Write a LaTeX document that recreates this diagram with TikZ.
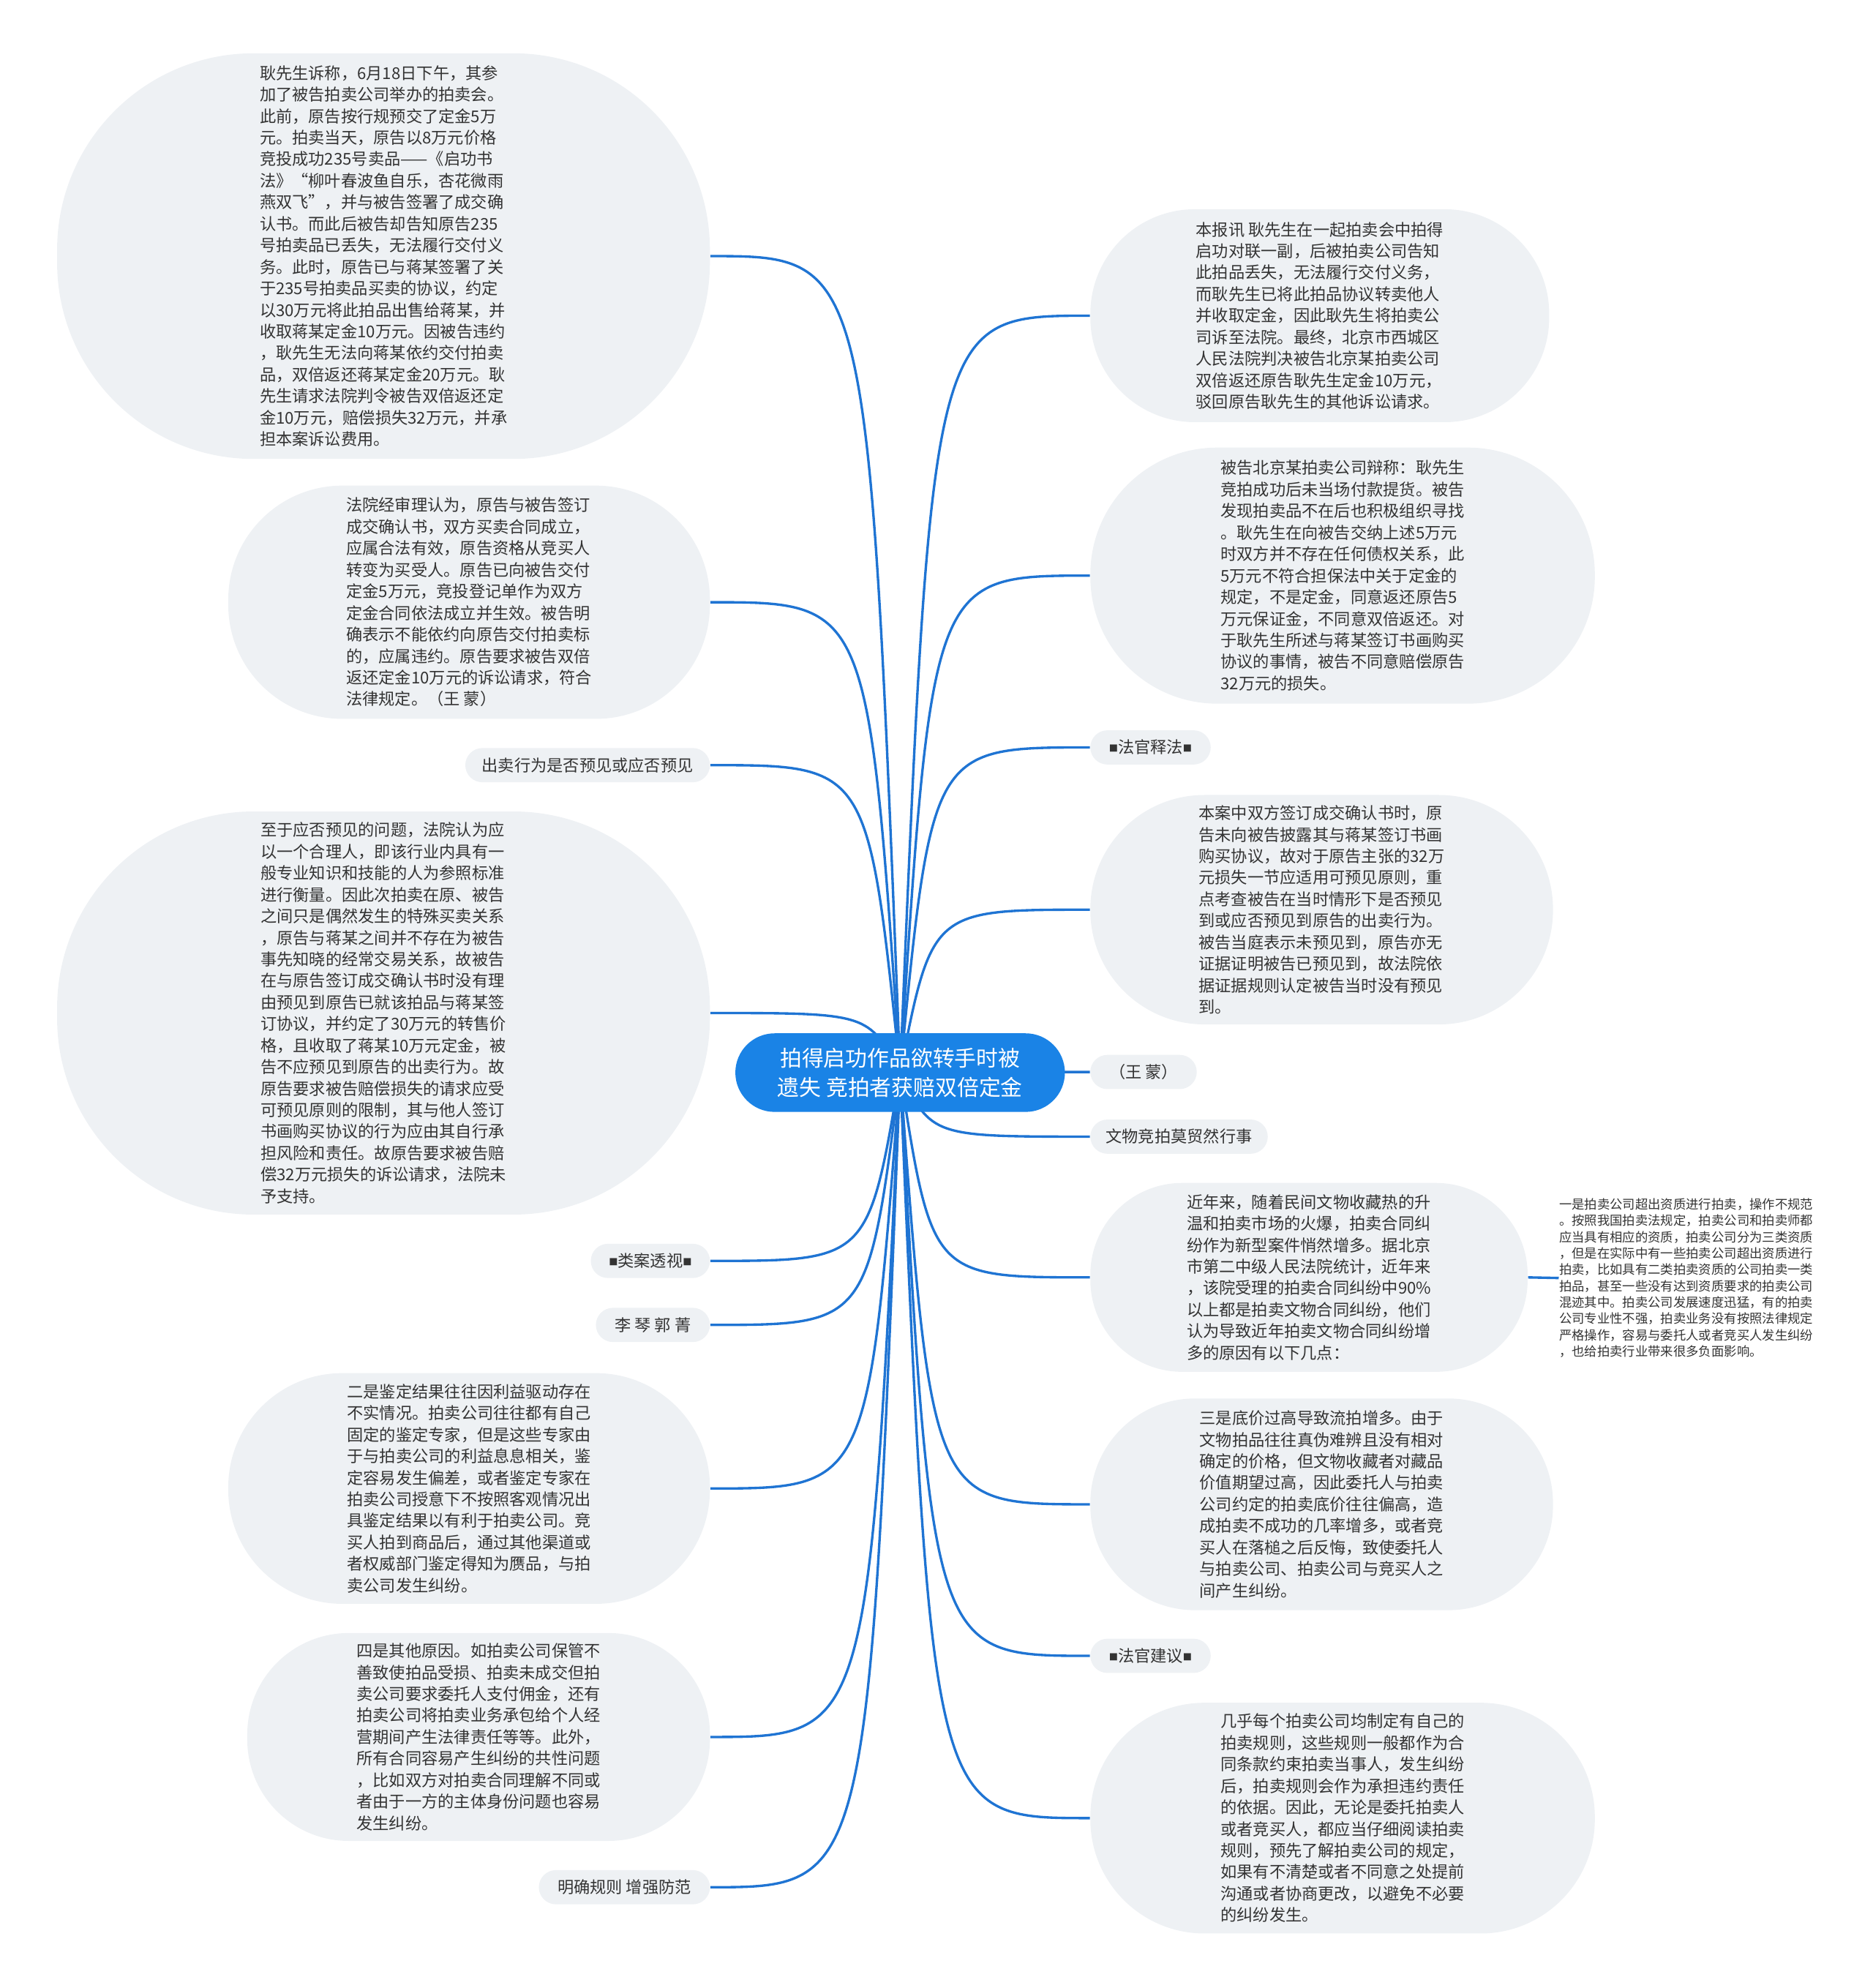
\documentclass[tikz,border=0pt]{standalone}
\usepackage{fontspec}
\setmainfont{Noto Sans CJK SC}
\usepackage{xcolor}
\usetikzlibrary{backgrounds}

\definecolor{mapblue}{HTML}{1A83E6}
\definecolor{linkblue}{HTML}{1F74D3}
\definecolor{blobgray}{HTML}{EEF1F4}
\definecolor{inkgray}{HTML}{333333}

\newcommand{\blk}{\raisebox{0.1em}{\scalebox{0.55}{■}}}

\tikzset{
  blob/.style={fill=blobgray, text=inkgray, align=left, inner sep=0pt,
    font=\fontsize{7.3pt}{9.67pt}\selectfont},
  tag/.style={blob, minimum height=0.54cm, rounded corners=0.27cm},
  link/.style={draw=linkblue, line width=1.1pt},
}

\begin{document}
\begin{tikzpicture}[x=0.02cm, y=-0.02cm]
  \useasboundingbox (0,0) rectangle (1477,1568);

  \node[fill=mapblue, text=white, align=center, minimum width=5.2cm, minimum height=1.24cm,
    rounded corners=0.62cm, font=\fontsize{9.8pt}{13pt}\selectfont] (title) at (710,846)
    {拍得启功作品欲转手时被\\遗失 竞拍者获赔双倍定金};

  % left side
  \node[blob, minimum width=10.3cm, minimum height=6.4cm, rounded corners=3.1cm] (claim) at (302.5,202) {
    耿先生诉称，6月18日下午，其参\\加了被告拍卖公司举办的拍卖会。\\此前，原告按行规预交了定金5万\\元。拍卖当天，原告以8万元价格\\竞投成功235号卖品——《启功书\\法》“柳叶春波鱼自乐，杏花微雨\\燕双飞”，并与被告签署了成交确\\认书。而此后被告却告知原告235\\号拍卖品已丢失，无法履行交付义\\务。此时，原告已与蒋某签署了关\\于235号拍卖品买卖的协议，约定\\以30万元将此拍品出售给蒋某，并\\收取蒋某定金10万元。因被告违约\\，耿先生无法向蒋某依约交付拍卖\\品，双倍返还蒋某定金20万元。耿\\先生请求法院判令被告双倍返还定\\金10万元，赔偿损失32万元，并承\\担本案诉讼费用。};
  \node[blob, minimum width=7.6cm, minimum height=3.68cm, rounded corners=1.8cm] (court) at (370,475) {
    法院经审理认为，原告与被告签订\\成交确认书，双方买卖合同成立，\\应属合法有效，原告资格从竞买人\\转变为买受人。原告已向被告交付\\定金5万元，竞投登记单作为双方\\定金合同依法成立并生效。被告明\\确表示不能依约向原告交付拍卖标\\的，应属违约。原告要求被告双倍\\返还定金10万元的诉讼请求，符合\\法律规定。（王 蒙）};
  \node[tag, minimum width=3.86cm] (foresee) at (463.5,603.5) {出卖行为是否预见或应否预见};
  \node[blob, minimum width=10.3cm, minimum height=6.36cm, rounded corners=3.1cm] (reason) at (302.5,799) {
    至于应否预见的问题，法院认为应\\以一个合理人，即该行业内具有一\\般专业知识和技能的人为参照标准\\进行衡量。因此次拍卖在原、被告\\之间只是偶然发生的特殊买卖关系\\，原告与蒋某之间并不存在为被告\\事先知晓的经常交易关系，故被告\\在与原告签订成交确认书时没有理\\由预见到原告已就该拍品与蒋某签\\订协议，并约定了30万元的转售价\\格，且收取了蒋某10万元定金，被\\告不应预见到原告的出卖行为。故\\原告要求被告赔偿损失的请求应受\\可预见原则的限制，其与他人签订\\书画购买协议的行为应由其自行承\\担风险和责任。故原告要求被告赔\\偿32万元损失的诉讼请求，法院未\\予支持。};
  \node[tag, minimum width=1.88cm] (leicase) at (513,994.5) {\blk 类案透视\blk};
  \node[tag, minimum width=1.8cm] (authors) at (515,1045) {李 琴 郭 菁};
  \node[blob, minimum width=7.6cm, minimum height=3.64cm, rounded corners=1.8cm] (second) at (370,1174) {
    二是鉴定结果往往因利益驱动存在\\不实情况。拍卖公司往往都有自己\\固定的鉴定专家，但是这些专家由\\于与拍卖公司的利益息息相关，鉴\\定容易发生偏差，或者鉴定专家在\\拍卖公司授意下不按照客观情况出\\具鉴定结果以有利于拍卖公司。竞\\买人拍到商品后，通过其他渠道或\\者权威部门鉴定得知为赝品，与拍\\卖公司发生纠纷。};
  \node[blob, minimum width=7.3cm, minimum height=3.28cm, rounded corners=1.6cm] (fourth) at (377.5,1370) {
    四是其他原因。如拍卖公司保管不\\善致使拍品受损、拍卖未成交但拍\\卖公司要求委托人支付佣金，还有\\拍卖公司将拍卖业务承包给个人经\\营期间产生法律责任等等。此外，\\所有合同容易产生纠纷的共性问题\\，比如双方对拍卖合同理解不同或\\者由于一方的主体身份问题也容易\\发生纠纷。};
  \node[tag, minimum width=2.7cm] (rules) at (492.5,1488.5) {明确规则 增强防范};

  % right side
  \node[blob, minimum width=7.24cm, minimum height=3.36cm, rounded corners=1.65cm] (report) at (1041,249) {
    本报讯 耿先生在一起拍卖会中拍得\\启功对联一副，后被拍卖公司告知\\此拍品丢失，无法履行交付义务，\\而耿先生已将此拍品协议转卖他人\\并收取定金，因此耿先生将拍卖公\\司诉至法院。最终，北京市西城区\\人民法院判决被告北京某拍卖公司\\双倍返还原告耿先生定金10万元，\\驳回原告耿先生的其他诉讼请求。};
  \node[blob, minimum width=7.96cm, minimum height=4.04cm, rounded corners=2cm] (defence) at (1059,454) {
    被告北京某拍卖公司辩称：耿先生\\竞拍成功后未当场付款提货。被告\\发现拍卖品不在后也积极组织寻找\\。耿先生在向被告交纳上述5万元\\时双方并不存在任何债权关系，此\\5万元不符合担保法中关于定金的\\规定，不是定金，同意返还原告5\\万元保证金，不同意双倍返还。对\\于耿先生所述与蒋某签订书画购买\\协议的事情，被告不同意赔偿原告\\32万元的损失。};
  \node[tag, minimum width=1.9cm] (judgehead) at (907.5,589.5) {\blk 法官释法\blk};
  \node[blob, minimum width=7.3cm, minimum height=3.62cm, rounded corners=1.8cm] (analysis) at (1042.5,717.5) {
    本案中双方签订成交确认书时，原\\告未向被告披露其与蒋某签订书画\\购买协议，故对于原告主张的32万\\元损失一节应适用可预见原则，重\\点考查被告在当时情形下是否预见\\到或应否预见到原告的出卖行为。\\被告当庭表示未预见到，原告亦无\\证据证明被告已预见到，故法院依\\据证据规则认定被告当时没有预见\\到。};
  \node[tag, minimum width=1.68cm] (wangmeng) at (902,845.5) {（王 蒙）};
  \node[tag, minimum width=2.8cm] (relics) at (930,896.5) {文物竞拍莫贸然行事};
  \node[blob, minimum width=6.9cm, minimum height=2.98cm, rounded corners=1.45cm] (recent) at (1032.5,1007.5) {
    近年来，随着民间文物收藏热的升\\温和拍卖市场的火爆，拍卖合同纠\\纷作为新型案件悄然增多。据北京\\市第二中级人民法院统计，近年来\\，该院受理的拍卖合同纠纷中90\%\\以上都是拍卖文物合同纠纷，他们\\认为导致近年拍卖文物合同纠纷增\\多的原因有以下几点：};
  \node[text=inkgray, align=left, inner sep=0pt, font=\fontsize{5.7pt}{7.33pt}\selectfont] (first) at (1330,1008) {
    一是拍卖公司超出资质进行拍卖，操作不规范\\。按照我国拍卖法规定，拍卖公司和拍卖师都\\应当具有相应的资质，拍卖公司分为三类资质\\，但是在实际中有一些拍卖公司超出资质进行\\拍卖，比如具有二类拍卖资质的公司拍卖一类\\拍品，甚至一些没有达到资质要求的拍卖公司\\混迹其中。拍卖公司发展速度迅猛，有的拍卖\\公司专业性不强，拍卖业务没有按照法律规定\\严格操作，容易与委托人或者竞买人发生纠纷\\，也给拍卖行业带来很多负面影响。};
  \node[blob, minimum width=7.3cm, minimum height=3.34cm, rounded corners=1.65cm] (third) at (1042.5,1186.5) {
    三是底价过高导致流拍增多。由于\\文物拍品往往真伪难辨且没有相对\\确定的价格，但文物收藏者对藏品\\价值期望过高，因此委托人与拍卖\\公司约定的拍卖底价往往偏高，造\\成拍卖不成功的几率增多，或者竞\\买人在落槌之后反悔，致使委托人\\与拍卖公司、拍卖公司与竞买人之\\间产生纠纷。};
  \node[tag, minimum width=1.9cm] (advicehead) at (907.5,1306) {\blk 法官建议\blk};
  \node[blob, minimum width=7.96cm, minimum height=3.64cm, rounded corners=1.8cm] (advice) at (1059,1434) {
    几乎每个拍卖公司均制定有自己的\\拍卖规则，这些规则一般都作为合\\同条款约束拍卖当事人，发生纠纷\\后，拍卖规则会作为承担违约责任\\的依据。因此，无论是委托拍卖人\\或者竞买人，都应当仔细阅读拍卖\\规则，预先了解拍卖公司的规定，\\如果有不清楚或者不同意之处提前\\沟通或者协商更改，以避免不必要\\的纠纷发生。};

  % branches
  \begin{scope}[on background layer]
    \foreach \n in {claim,court,foresee,reason,leicase,authors,second,fourth,rules}
      \draw[link] (title.center) .. controls ([xshift=-0.5cm]title.center |- \n.east) .. (\n.east);
    \foreach \n in {report,defence,judgehead,analysis,wangmeng,relics,recent,third,advicehead,advice}
      \draw[link] (title.center) .. controls ([xshift=0.5cm]title.center |- \n.west) .. (\n.west);
  \end{scope}
  \draw[link] (recent.east) -- (first.west);
\end{tikzpicture}
\end{document}
